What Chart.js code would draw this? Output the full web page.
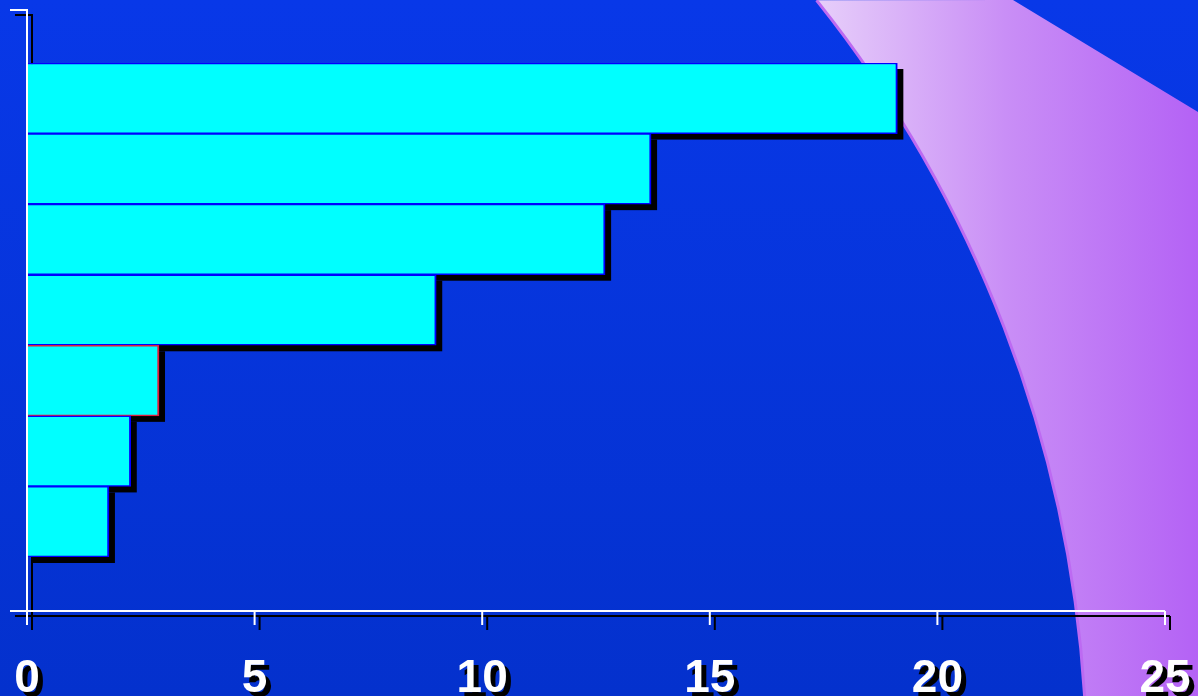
<!DOCTYPE html>
<html>
<head>
<meta charset="utf-8">
<script src="https://cdn.jsdelivr.net/npm/chart.js@4"></script>
<style>
  html, body { margin: 0; padding: 0; background: #0836e0; }
  canvas { display: block; }
</style>
</head>
<body>
<canvas id="barChart" width="1198" height="696"></canvas>
<script>
// data
const categories = ["1", "2", "3", "4", "5", "6", "7"];
const values = [19.12, 13.71, 12.7, 8.99, 2.9, 2.28, 1.8];
const xTicks = [0, 5, 10, 15, 20, 25];
const xTickLabels = ["0", "5", "10", "15", "20", "25"];

document.addEventListener("DOMContentLoaded", function () {
  const ctx = document.getElementById("barChart");

  // backdrop: blue gradient plus the purple swoosh on the right
  const backdrop = {
    id: "backdrop",
    beforeDraw(chart) {
      const c = chart.ctx;
      const w = chart.width, h = chart.height;
      c.save();
      const bg = c.createLinearGradient(0, 0, 0, h);
      bg.addColorStop(0, "#0838e8");
      bg.addColorStop(1, "#0431cd");
      c.fillStyle = bg;
      c.fillRect(0, 0, w, h);

      // purple band: outside a big circle, under a straight edge
      const cx = -152, cy = 773, r = 1239;
      c.beginPath();
      c.moveTo(1013, 0);
      c.lineTo(w, 112);
      c.lineTo(w, h);
      c.lineTo(1085, h);
      c.arc(cx, cy, r, Math.atan2(h - cy, 1085 - cx), Math.atan2(-cy, 817 - cx), true);
      c.closePath();
      const pg = c.createLinearGradient(815, 0, w, 0);
      pg.addColorStop(0, "#e7cffa");
      pg.addColorStop(0.5, "#c98ef6");
      pg.addColorStop(1, "#b462f5");
      c.fillStyle = pg;
      c.fill();

      c.beginPath();
      c.arc(cx, cy, r, Math.atan2(h - cy, 1085 - cx), Math.atan2(-cy, 817 - cx), true);
      c.strokeStyle = "#bd6af2";
      c.lineWidth = 3;
      c.stroke();
      c.restore();
    },
  };

  function drawAxes(chart, color, dx, dy) {
    const c = chart.ctx;
    const xs = chart.scales.x;
    const area = chart.chartArea;
    const x0 = xs.getPixelForValue(xTicks[0]) + dx;
    const xEnd = xs.getPixelForValue(xTicks[xTicks.length - 1]) + dx;
    const topY = area.top - 53 + dy;
    const axisY = area.bottom + 54 + dy;
    c.save();
    c.strokeStyle = color;
    c.lineWidth = 2;
    c.beginPath();
    c.moveTo(x0 - 17, topY);
    c.lineTo(x0, topY);
    c.lineTo(x0, axisY + 14);
    c.moveTo(x0 - 17, axisY);
    c.lineTo(xEnd, axisY);
    xTicks.forEach((v) => {
      const px = xs.getPixelForValue(v) + dx;
      c.moveTo(px, axisY);
      c.lineTo(px, axisY + 14);
    });
    c.stroke();
    c.restore();
  }

  const shadows = {
    id: "shadows",
    beforeDatasetsDraw(chart) {
      const c = chart.ctx;
      drawAxes(chart, "#000000", 5, 5);
      // drop shadow behind every bar
      c.save();
      c.fillStyle = "#000000";
      chart.getDatasetMeta(0).data.forEach((bar) => {
        const p = bar.getProps(["x", "y", "base", "height"], true);
        c.fillRect(p.base + 6, p.y - p.height / 2 + 6, p.x - p.base, p.height);
      });
      c.restore();
    },
    afterDatasetsDraw(chart) {
      drawAxes(chart, "#ffffff", 0, 0);
    },
    afterDraw(chart) {
      const c = chart.ctx;
      const xs = chart.scales.x;
      c.save();
      c.font = "bold 46px 'Liberation Sans', Arial, sans-serif";
      c.textAlign = "center";
      c.textBaseline = "alphabetic";
      xTicks.forEach((v, i) => {
        const px = xs.getPixelForValue(v);
        c.fillStyle = "#000000";
        c.fillText(xTickLabels[i], px + 5, 697);
        c.fillStyle = "#ffffff";
        c.fillText(xTickLabels[i], px, 692);
      });
      c.restore();
    },
  };

  new Chart(ctx, {
    type: "bar",
    data: {
      labels: categories,
      datasets: [
        {
          data: values,
          backgroundColor: "#00ffff",
          borderColor: values.map((v, i) => (i === 4 ? "#e01e3c" : "#0000ff")),
          borderWidth: { top: 1.5, right: 2, bottom: 1.5, left: 0 },
          borderSkipped: false,
          barPercentage: 1,
          categoryPercentage: 1,
        },
      ],
    },
    options: {
      indexAxis: "y",
      responsive: false,
      animation: false,
      devicePixelRatio: 1,
      layout: {
        padding: { left: 27, right: 33, top: 63, bottom: 139 },
      },
      scales: {
        x: { type: "linear", min: 0, max: 25, display: false },
        y: { type: "category", display: false },
      },
      plugins: {
        legend: { display: false },
        tooltip: { enabled: false },
      },
    },
    plugins: [backdrop, shadows],
  });
});
</script>
</body>
</html>
